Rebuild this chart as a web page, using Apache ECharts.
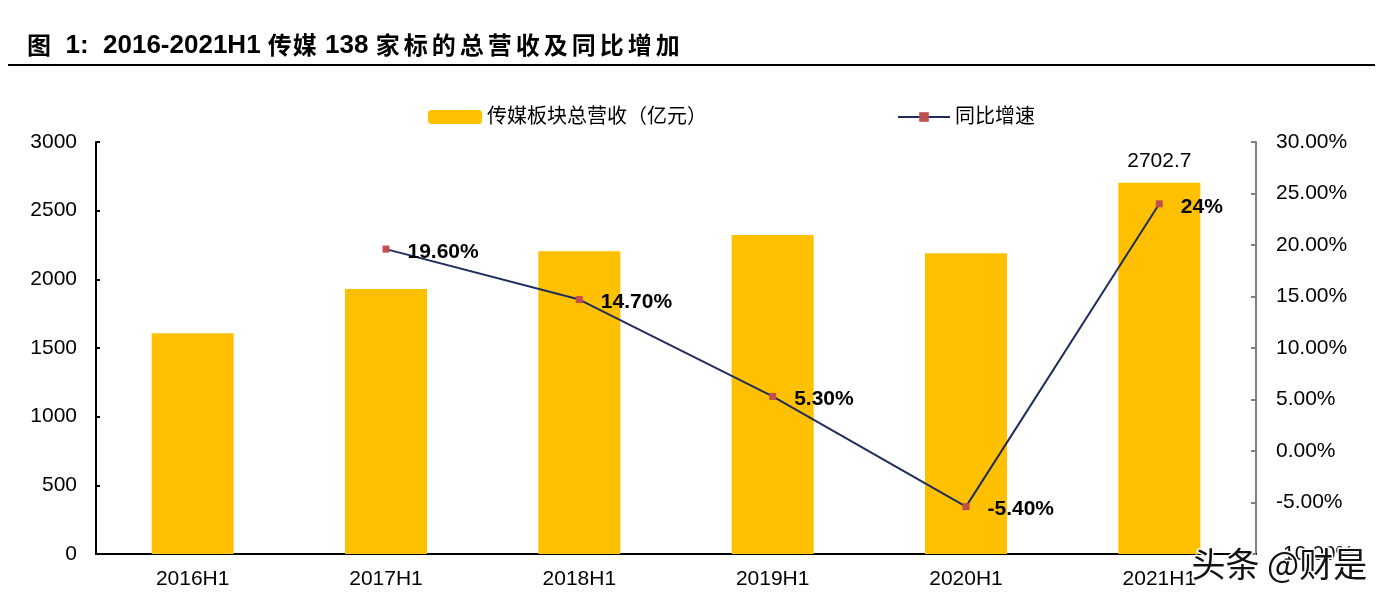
<!DOCTYPE html>
<html>
<head>
<meta charset="utf-8">
<script src="https://cdn.jsdelivr.net/npm/echarts@6/dist/echarts.min.js"></script>
<style>
  html, body { margin: 0; padding: 0; background: #fff; }
  #chart { width: 1395px; height: 606px; }
</style>
</head>
<body>
<div id="chart"></div>
<script>
const chart = echarts.init(document.getElementById("chart"));

// ---- data ----
const periods = ["2016H1", "2017H1", "2018H1", "2019H1", "2020H1", "2021H1"];
const revenue = [1608, 1930, 2205, 2322, 2190, 2702.7];
const growth = [null, 19.6, 14.7, 5.3, -5.4, 24];
const growthLabels = ["", "19.60%", "14.70%", "5.30%", "-5.40%", "24%"];

const FONT = "'Liberation Sans', 'Noto Sans CJK SC', sans-serif";
const CJK = "'Noto Sans CJK SC', sans-serif";

// title: Chinese characters are spaced out in the original
const spaced = (s, style) => s.split("").map(ch => `{${style}|${ch}}`).join("");
const titleText =
  "{k|图}{d|  1:  2016-2021H1 }" + spaced("传媒", "s") +
  "{d| 138 }" + spaced("家标的总营收及同比增加", "w");

const cjkTok = { fontSize: 24, fontWeight: "bold", fontFamily: CJK, color: "#000", verticalAlign: "middle", lineHeight: 32, padding: [0, 0, 3, 0] };

chart.setOption({
  animation: false,
  textStyle: { fontFamily: FONT },

  title: {
    text: titleText,
    left: 22,
    top: 25,
    textStyle: {
      rich: {
        k: cjkTok,
        d: { fontSize: 26, fontWeight: "bold", fontFamily: "'Liberation Sans', sans-serif", color: "#000", verticalAlign: "middle", lineHeight: 32 },
        s: Object.assign({}, cjkTok, { width: 25 }),
        w: Object.assign({}, cjkTok, { width: 28 })
      }
    }
  },

  legend: [
    {
      left: 423,
      top: 102,
      itemWidth: 54,
      itemHeight: 14,
      data: ["传媒板块总营收（亿元）"],
      textStyle: { fontSize: 20, color: "#000" }
    },
    {
      left: 892,
      top: 102,
      itemWidth: 52,
      itemHeight: 12,
      data: ["同比增速"],
      textStyle: { fontSize: 20, color: "#000" }
    }
  ],

  grid: { left: 96, right: 139, top: 142, bottom: 52 },

  xAxis: {
    type: "category",
    data: periods,
    axisLine: { lineStyle: { color: "#000", width: 2 } },
    axisTick: { show: false },
    axisLabel: { fontSize: 21, color: "#000", margin: 15 }
  },

  yAxis: [
    {
      type: "value",
      min: 0,
      max: 3000,
      interval: 500,
      splitLine: { show: false },
      axisLine: { show: true, lineStyle: { color: "#000", width: 2 } },
      axisTick: { show: true, inside: true, length: 4, lineStyle: { color: "#000", width: 2 } },
      axisLabel: { fontSize: 21, color: "#000", margin: 19, formatter: v => String(v) }
    },
    {
      type: "value",
      min: -10,
      max: 30,
      interval: 5,
      splitLine: { show: false },
      axisLine: { show: true, lineStyle: { color: "#808080", width: 2 } },
      axisTick: { show: true, inside: true, length: 5, lineStyle: { color: "#808080", width: 2 } },
      axisLabel: {
        fontSize: 21,
        color: "#000",
        margin: 20,
        formatter: v => v.toFixed(2) + "%"
      }
    }
  ],

  series: [
    {
      name: "传媒板块总营收（亿元）",
      type: "bar",
      data: revenue,
      barWidth: 82,
      itemStyle: { color: "#FFC000" },
      label: {
        show: true,
        position: "top",
        distance: 11,
        fontSize: 21,
        color: "#000",
        formatter: p => (p.dataIndex === revenue.length - 1 ? String(p.value) : "")
      }
    },
    {
      name: "同比增速",
      type: "line",
      yAxisIndex: 1,
      data: growth,
      connectNulls: false,
      symbol: "rect",
      symbolSize: 7,
      lineStyle: { color: "#1F2D5E", width: 2 },
      itemStyle: { color: "#C0504D" },
      label: {
        show: true,
        position: "right",
        distance: 18,
        offset: [0, 3],
        fontSize: 21,
        fontWeight: "bold",
        color: "#000",
        formatter: p => growthLabels[p.dataIndex]
      }
    }
  ],

  graphic: [
    {
      type: "line",
      shape: { x1: 8, y1: 65, x2: 1375, y2: 65 },
      style: { stroke: "#000", lineWidth: 2 }
    },
    {
      type: "text",
      left: 1190,
      top: 546,
      z: 100,
      style: {
        text: "头条 @财是",
        fontSize: 34,
        fontFamily: CJK,
        fill: "#111",
        stroke: "#fff",
        lineWidth: 3
      }
    }
  ]
});
</script>
</body>
</html>
